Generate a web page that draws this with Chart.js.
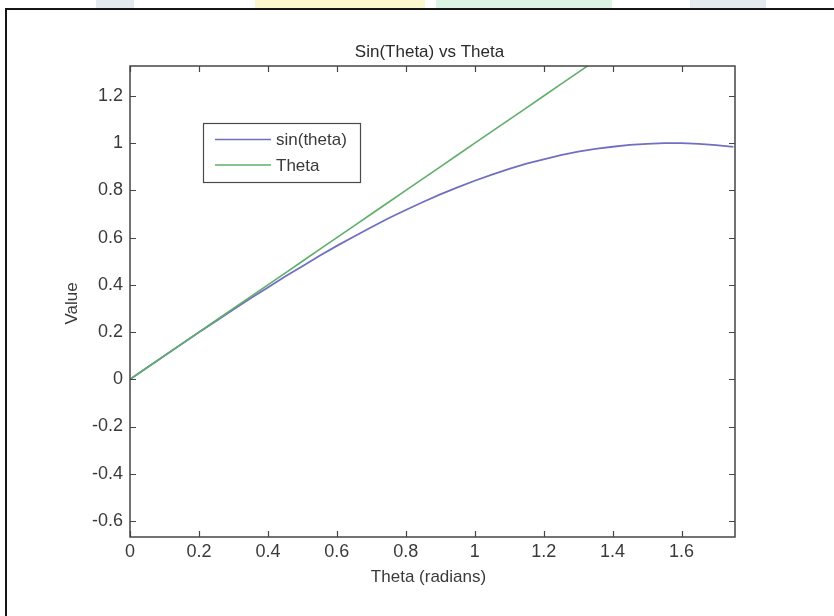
<!DOCTYPE html>
<html>
<head>
<meta charset="utf-8">
<script src="https://cdn.jsdelivr.net/npm/chart.js@4.4.1/dist/chart.umd.min.js"></script>
<style>
  html, body { margin: 0; padding: 0; background: #fff; }
  body { width: 834px; height: 616px; position: relative; overflow: hidden; }
  .wm { position: absolute; top: 0; height: 8px; }
  #frame { position: absolute; left: 5px; top: 8px; width: 840px; height: 700px;
           border-left: 2px solid #151515; border-top: 2px solid #151515; }
  #c { position: absolute; left: 0; top: 0; }
</style>
</head>
<body>
<div class="wm" style="left:96px;width:38px;background:#e4ebee"></div>
<div class="wm" style="left:255px;width:170px;background:#fdf7cf"></div>
<div class="wm" style="left:436px;width:176px;background:#dcf4e4"></div>
<div class="wm" style="left:690px;width:76px;background:#e4ebee"></div>
<div id="frame"></div>
<canvas id="c" width="834" height="616"></canvas>
<script>
// ---- data ----
const thetaValues = [0,0.05,0.1,0.15,0.2,0.25,0.3,0.35,0.4,0.45,0.5,0.55,0.6,0.65,0.7,0.75,0.8,0.85,0.9,0.95,1.0,1.05,1.1,1.15,1.2,1.25,1.3,1.35,1.4,1.45,1.5,1.55,1.6,1.65,1.7,1.75];
const sinValues   = [0,0.050,0.100,0.149,0.199,0.247,0.296,0.343,0.389,0.435,0.479,0.523,0.565,0.605,0.644,0.682,0.717,0.751,0.783,0.813,0.841,0.867,0.891,0.913,0.932,0.949,0.964,0.976,0.985,0.993,0.997,1.000,1.000,0.997,0.992,0.984];
const lineValues  = [0,0.05,0.1,0.15,0.2,0.25,0.3,0.35,0.4,0.45,0.5,0.55,0.6,0.65,0.7,0.75,0.8,0.85,0.9,0.95,1.0,1.05,1.1,1.15,1.2,1.25,1.3,1.35,1.4,1.45,1.5,1.55,1.6,1.65,1.7,1.75];
const seriesLabels = ['sin(theta)', 'Theta'];
const xTicks = [0,0.2,0.4,0.6,0.8,1,1.2,1.4,1.6];
const yTicks = [-0.6,-0.4,-0.2,0,0.2,0.4,0.6,0.8,1,1.2];
const titleText = 'Sin(Theta) vs Theta';
const xLabel = 'Theta (radians)';
const yLabel = 'Value';

const FONT = '"Liberation Sans", Arial, Helvetica, sans-serif';
const TXT = '#3a3a3a';
const BLUE = '#7070c0';
const GREEN = '#5fae6a';

const pts = (xs, ys) => xs.map((x, i) => ({x: x, y: ys[i]}));

const matlabPlugin = {
  id: 'matlabDecor',
  afterDraw(chart) {
    const ctx = chart.ctx;
    const a = chart.chartArea;
    const xs = chart.scales.x, ys = chart.scales.y;
    ctx.save();
    // box
    ctx.strokeStyle = '#454545';
    ctx.lineWidth = 1.5;
    ctx.strokeRect(a.left, a.top, a.right - a.left, a.bottom - a.top);
    // inward ticks
    const tl = 6;
    ctx.lineWidth = 1.2;
    ctx.beginPath();
    xs.ticks.forEach(t => {
      const p = Math.round(xs.getPixelForValue(t.value)) + 0.5;
      ctx.moveTo(p, a.bottom); ctx.lineTo(p, a.bottom - tl);
      ctx.moveTo(p, a.top); ctx.lineTo(p, a.top + tl);
    });
    ys.ticks.forEach(t => {
      const p = Math.round(ys.getPixelForValue(t.value)) + 0.5;
      ctx.moveTo(a.left, p); ctx.lineTo(a.left + tl, p);
      ctx.moveTo(a.right, p); ctx.lineTo(a.right - tl, p);
    });
    ctx.stroke();
    // title and axis labels
    ctx.fillStyle = '#2a2a2a';
    ctx.font = '17px ' + FONT;
    ctx.textAlign = 'center';
    ctx.textBaseline = 'middle';
    ctx.fillText(titleText, (a.left + a.right) / 2 - 3, a.top - 14);
    ctx.fillStyle = TXT;
    ctx.fillText(xLabel, (a.left + a.right) / 2 - 4, a.bottom + 40);
    ctx.save();
    ctx.translate(a.left - 58, (a.top + a.bottom) / 2 + 2);
    ctx.rotate(-Math.PI / 2);
    ctx.fillText(yLabel, 0, 0);
    ctx.restore();
    // legend
    const lx = a.left + 73, ly = a.top + 57, lw = 157, lh = 59;
    ctx.fillStyle = '#fff';
    ctx.fillRect(lx, ly, lw, lh);
    ctx.strokeStyle = '#4a4a4a';
    ctx.lineWidth = 1.2;
    ctx.strokeRect(lx + 0.5, ly + 0.5, lw, lh);
    const rows = [ly + 16.5, ly + 42];
    const colors = [BLUE, GREEN];
    ctx.textAlign = 'left';
    ctx.font = '17px ' + FONT;
    seriesLabels.forEach((lab, i) => {
      ctx.strokeStyle = colors[i];
      ctx.lineWidth = 1.6;
      ctx.beginPath();
      ctx.moveTo(lx + 12, rows[i]); ctx.lineTo(lx + 68, rows[i]);
      ctx.stroke();
      ctx.fillStyle = TXT;
      ctx.fillText(lab, lx + 73, rows[i] + 1);
    });
    ctx.restore();
  }
};

new Chart(document.getElementById('c'), {
  type: 'scatter',
  data: {
    datasets: [
      { label: seriesLabels[0], data: pts(thetaValues, sinValues), showLine: true,
        borderColor: BLUE, borderWidth: 1.8, pointRadius: 0, tension: 0, order: 1 },
      { label: seriesLabels[1], data: pts(thetaValues, lineValues), showLine: true,
        borderColor: GREEN, borderWidth: 1.6, pointRadius: 0, tension: 0, order: 0 }
    ]
  },
  options: {
    responsive: false,
    animation: false,
    events: [],
    layout: { padding: { left: 40, right: 99, top: 66, bottom: 0 } },
    plugins: { legend: { display: false }, title: { display: false }, tooltip: { enabled: false } },
    scales: {
      x: {
        type: 'linear', min: 0, max: 1.755,
        afterBuildTicks: s => { s.ticks = xTicks.map(v => ({value: v})); },
        afterFit: s => { s.height = 79; },
        ticks: { font: { size: 18, family: FONT }, color: TXT, padding: 4,
                 maxRotation: 0, autoSkip: false, callback: v => String(v) },
        grid: { display: false, drawTicks: false },
        border: { display: false }
      },
      y: {
        type: 'linear', min: -0.668, max: 1.327,
        afterBuildTicks: s => { s.ticks = yTicks.map(v => ({value: v})); },
        afterFit: s => { s.width = 90; },
        ticks: { font: { size: 18, family: FONT }, color: TXT, padding: 7,
                 autoSkip: false, callback: v => String(v) },
        grid: { display: false, drawTicks: false },
        border: { display: false }
      }
    }
  },
  plugins: [matlabPlugin]
});
</script>
</body>
</html>
